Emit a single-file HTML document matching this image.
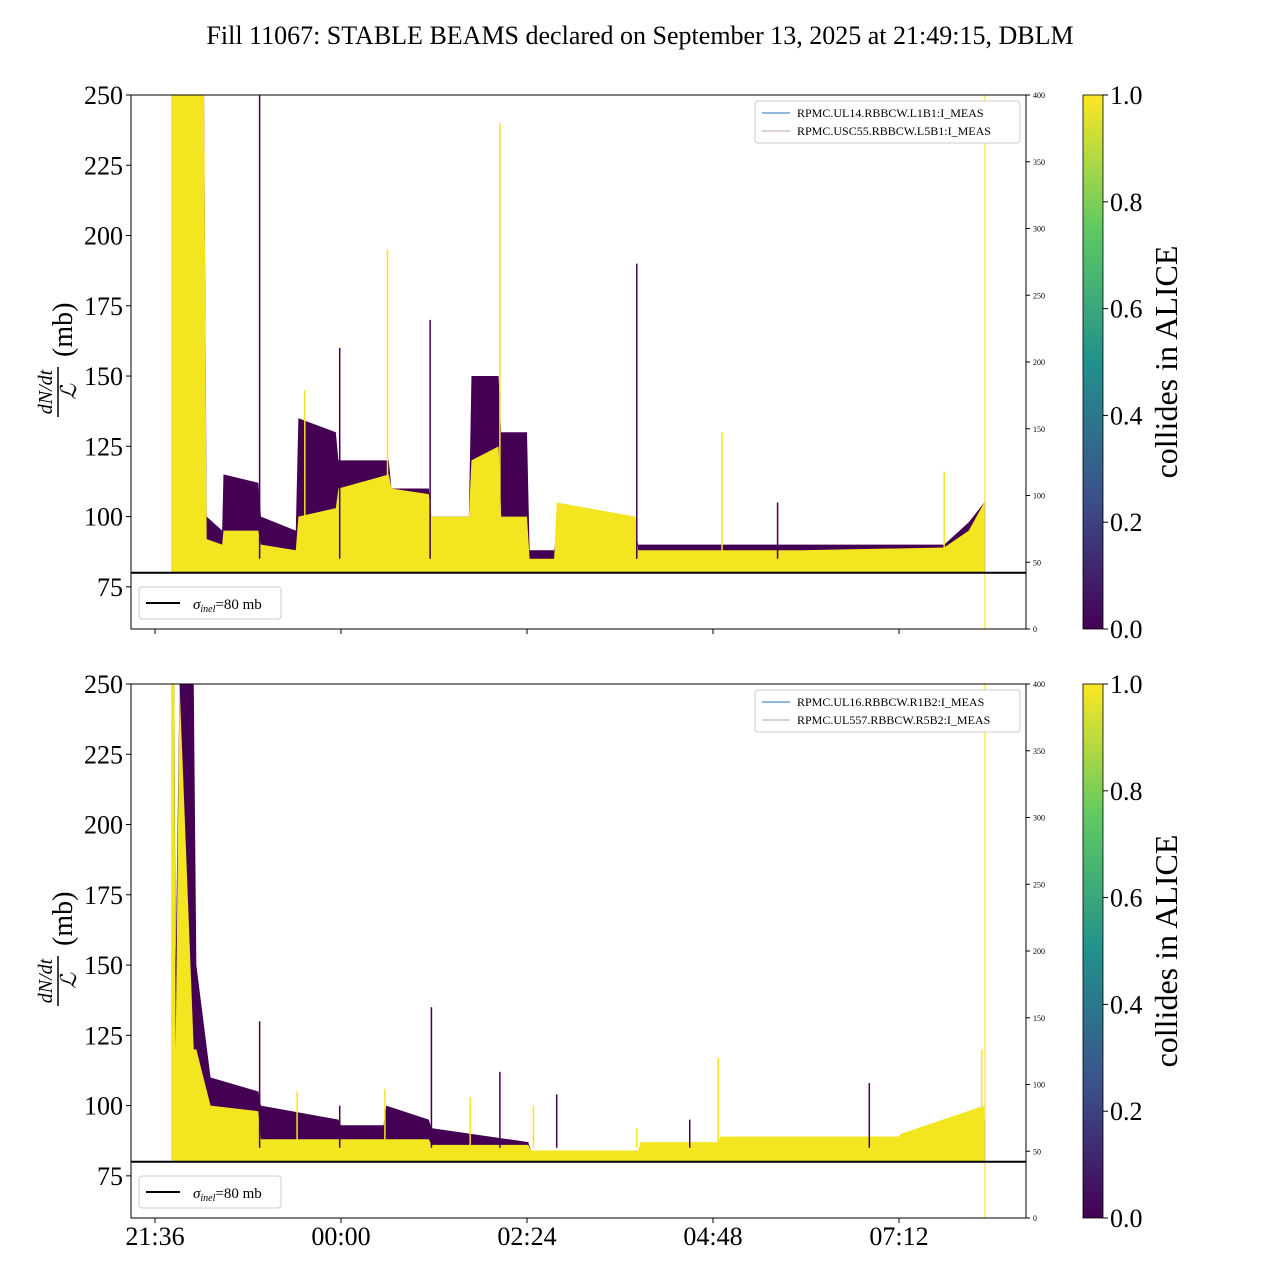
<!DOCTYPE html>
<html><head><meta charset="utf-8"><style>
body{margin:0;background:#fff}
svg text{font-family:"Liberation Serif",serif;fill:#000}
</style></head><body>
<svg id="c" width="1280" height="1280" xmlns="http://www.w3.org/2000/svg">
<defs><linearGradient id="vir" x1="0" y1="1" x2="0" y2="0">
<stop offset="0" stop-color="#440154"/><stop offset="0.25" stop-color="#3b528b"/><stop offset="0.5" stop-color="#21918c"/><stop offset="0.75" stop-color="#5ec962"/><stop offset="1" stop-color="#fde725"/></linearGradient>
<clipPath id="cp0"><rect x="131" y="95" width="895" height="534"/></clipPath>
<clipPath id="cp1"><rect x="131" y="684" width="895" height="533"/></clipPath></defs>
<text x="640" y="44" font-size="26" text-anchor="middle">Fill 11067: STABLE BEAMS declared on September 13, 2025 at 21:49:15, DBLM</text>
<g id="panels"></g>
</svg>
<script>
const tTop=[13,38,40,52,53,80,82,109,111,140,142,181,183,212,214,243,245,266,268,288,290,309,311,372,374,500,611,630,642];
const purpleTop=[250,250,100,95,115,112,100,95,135,130,120,120,110,110,100,100,150,150,130,130,88,88,95,95,90,90,90,98,105];
const yellowTop=[250,250,92,90,95,95,90,88,100,103,110,115,110,108,100,100,120,125,100,100,85,85,105,100,88,88,89,95,105];
const spikeTopT=[81,116,143,180,213,267,373,439,482,611];
const spikeTopV=[250,145,160,195,170,240,190,130,105,116];
const tBot=[13,15,16,19,30,32,43,80,82,142,144,177,179,212,214,289,291,374,376,436,438,576,578,642];
const purpleBot=[250,250,150,250,250,150,110,105,100,95,93,93,100,95,92,87,84,84,86,86,89,89,90,95];
const yellowBot=[250,250,120,250,120,120,100,98,88,88,88,88,88,88,86,86,84,84,87,87,89,89,90,100];
const spikeBotT=[81,110,143,178,214,244,267,293,311,373,414,436,553,640];
const spikeBotV=[130,105,100,106,135,103,112,100,104,92,95,117,108,120];
const yTicks=[75,100,125,150,175,200,225,250];
const rTicks=[0,50,100,150,200,250,300,350,400];
const xTickMin=[0,144,288,432,576];
const xTickLab=["21:36","00:00","02:24","04:48","07:12"];
const cbTicks=["0.0","0.2","0.4","0.6","0.8","1.0"];
const legTop=["RPMC.UL14.RBBCW.L1B1:I_MEAS","RPMC.USC55.RBBCW.L5B1:I_MEAS"];
const legBot=["RPMC.UL16.RBBCW.R1B2:I_MEAS","RPMC.UL557.RBBCW.R5B2:I_MEAS"];
const NS="http://www.w3.org/2000/svg";
const G=document.getElementById('panels');
function el(t,a,p){const e=document.createElementNS(NS,t);for(const k in a)e.setAttribute(k,a[k]);(p||G).appendChild(e);return e;}
const X0=131,X1=1026;
const xs=m=>155+m*186/144;
function panel(top,T,P,Y,ST,SV,leg,cp,idx){
  const bot=top+534;
  const ys=v=>bot-(v-60)*(534/190);
  const g=el('g',{'clip-path':'url(#'+cp+')'});
  
  
  function area(arr,fill,name){
    let d='M'+xs(T[0])+','+ys(80);
    for(let i=0;i<T.length;i++)d+=' L'+xs(T[i])+','+ys(arr[i]);
    d+=' L'+xs(T[T.length-1])+','+ys(80)+' Z';
    const p=el('path',{d:d,fill:fill},g);
    
    
  }
  area(P,'#440154','purple-envelope');
  area(Y,'#f3e51f','yellow-envelope');
  for(let i=0;i<ST.length;i++){
    const s=el('line',{x1:xs(ST[i]),x2:xs(ST[i]),y1:ys(85),y2:ys(SV[i]),stroke:i%2?'#f3e51f':'#440154','stroke-width':1.5},g);
    
    
  }
  const vl=el('line',{x1:985,x2:985,y1:top,y2:bot,stroke:'#f3e51f','stroke-width':1.2});
  
  
  const hl=el('line',{x1:X0,x2:X1,y1:ys(80),y2:ys(80),stroke:'#000','stroke-width':2});
  
  
  const fr=el('rect',{x:X0,y:top,width:X1-X0,height:bot-top,fill:'none',stroke:'#000','stroke-width':1});
  
  
  yTicks.forEach(v=>{const y=ys(v);el('line',{x1:X0-5,x2:X0,y1:y,y2:y,stroke:'#000'});
    const t=el('text',{x:X0-8,y:y+9,'font-size':26,'text-anchor':'end'});t.textContent=v;
    });
  rTicks.forEach(v=>{const y=bot-v*534/400;el('line',{x1:X1,x2:X1+4,y1:y,y2:y,stroke:'#000'});
    const t=el('text',{x:X1+7,y:y+3,'font-size':8});t.textContent=v;
    });
  xTickMin.forEach((m,i)=>{el('line',{x1:xs(m),x2:xs(m),y1:bot,y2:bot+5,stroke:'#000'});
    if(idx===1){const t=el('text',{x:xs(m),y:bot+27,'font-size':26,'text-anchor':'middle'});t.textContent=xTickLab[i];
    }});
  const yl=el('g',{transform:'translate(60,'+(top+267)+') rotate(-90)'});
  
  const a=el('text',{x:-30,y:-8,'font-size':20,'font-style':'italic','text-anchor':'middle'},yl);a.textContent='dN/dt';
  el('line',{x1:-55,x2:-5,y1:-2,y2:-2,stroke:'#000','stroke-width':1.5},yl);
  const b=el('text',{x:-30,y:16,'font-size':22,'font-style':'italic','text-anchor':'middle'},yl);b.textContent='ℒ';
  const c=el('text',{x:5,y:12,'font-size':28},yl);c.textContent='(mb)';
  const lg=el('g',{});
  el('rect',{x:755,y:top+6,width:265,height:42,fill:'#fff',stroke:'#ccc',rx:3},lg);
  leg.forEach((s,i)=>{const y=top+18+i*18;
    el('line',{x1:762,x2:790,y1:y,y2:y,stroke:i?'#c4a3a3':'#1f77b4','stroke-width':1},lg);
    const t=el('text',{x:797,y:y+4,'font-size':12},lg);t.textContent=s;
    });
  const lg2=el('g',{});
  el('rect',{x:139,y:bot-42,width:142,height:32,fill:'#fff',stroke:'#ccc',rx:3},lg2);
  el('line',{x1:146,x2:180,y1:bot-26,y2:bot-26,stroke:'#000','stroke-width':2},lg2);
  const st=el('text',{x:193,y:bot-20,'font-size':15},lg2);
  st.innerHTML='<tspan font-style="italic">σ</tspan><tspan font-size="10" dy="3" font-style="italic">inel</tspan><tspan dy="-3">=80 mb</tspan>';
  const cb=el('rect',{x:1083,y:top,width:20,height:534,fill:'url(#vir)',stroke:'#000','stroke-width':0.8});
  
  cbTicks.forEach((s,i)=>{const y=bot-i*534/5;el('line',{x1:1103,x2:1108,y1:y,y2:y,stroke:'#000'});
    const t=el('text',{x:1110,y:y+9,'font-size':26});t.textContent=s;
    });
  const ct=el('text',{x:0,y:0,'font-size':32,'text-anchor':'middle',transform:'translate(1177,'+(top+267)+') rotate(-90)'});
  ct.textContent='collides in ALICE';
  
}
panel(95,tTop,purpleTop,yellowTop,spikeTopT,spikeTopV,legTop,'cp0',0);
panel(684,tBot,purpleBot,yellowBot,spikeBotT,spikeBotV,legBot,'cp1',1);
</script>
</body></html>
